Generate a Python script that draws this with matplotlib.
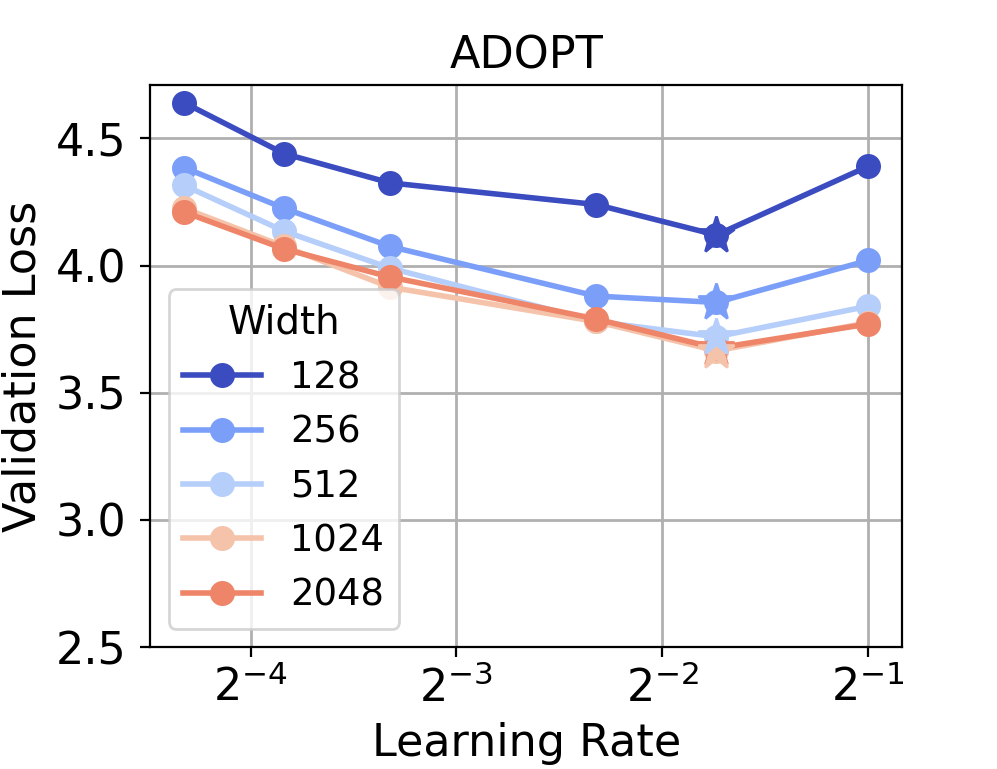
import numpy as np
import matplotlib
matplotlib.use('Agg')
import matplotlib.pyplot as plt

# Dane
learning_rates = [0.05, 0.07, 0.1, 0.2, 0.3, 0.5]
widths = ['128', '256', '512', '1024', '2048']
loss_128 = [4.64, 4.44, 4.325, 4.24, 4.12, 4.39]
loss_256 = [4.385, 4.225, 4.075, 3.88, 3.855, 4.02]
loss_512 = [4.315, 4.135, 3.99, 3.78, 3.72, 3.84]
loss_1024 = [4.225, 4.075, 3.915, 3.78, 3.665, 3.775]
loss_2048 = [4.21, 4.065, 3.955, 3.79, 3.675, 3.77]
all_losses = [loss_128, loss_256, loss_512, loss_1024, loss_2048]

cmap = plt.get_cmap('coolwarm')
colors = [cmap(v) for v in [0.0, 0.2, 0.37, 0.63, 0.8]]

plt.rcParams['font.size'] = 16

fig = plt.figure(figsize=(9.97 / 2, 7.69 / 2), dpi=200)
ax = fig.add_axes([0.1505, 0.1586, 0.7545, 0.7309])

for w, loss, c in zip(widths, all_losses, colors):
    ax.plot(learning_rates, loss, marker='o', markersize=8, linewidth=2, color=c, label=w)

# gwiazdki w minimum (odwrotna kolejnosc, jak na oryginale)
for loss, c in list(zip(all_losses, colors))[::-1]:
    i = int(np.argmin(loss))
    ax.plot(learning_rates[i], loss[i], marker='*', markersize=14, color=c,
            linestyle='none', zorder=3)

ax.set_xscale('log', base=2)
ax.set_xticks([2**-4, 2**-3, 2**-2, 2**-1])
ax.set_ylim(2.5, 4.71)
ax.set_yticks([2.5, 3.0, 3.5, 4.0, 4.5])
ax.tick_params(labelsize=16)
ax.tick_params(axis='y', pad=5)
ax.minorticks_off()
ax.grid(True, color='#b0b0b0', linewidth=1.0)
ax.set_xlabel('Learning Rate', fontsize=16)
ax.set_ylabel('Validation Loss', fontsize=16)
ax.set_title('ADOPT', fontsize=16)
ax.legend(title='Width', fontsize=13.3, title_fontsize=14, loc='lower left',
          handlelength=2.1, handletextpad=0.8, labelspacing=0.47)

fig.savefig('out.png', dpi=200)
